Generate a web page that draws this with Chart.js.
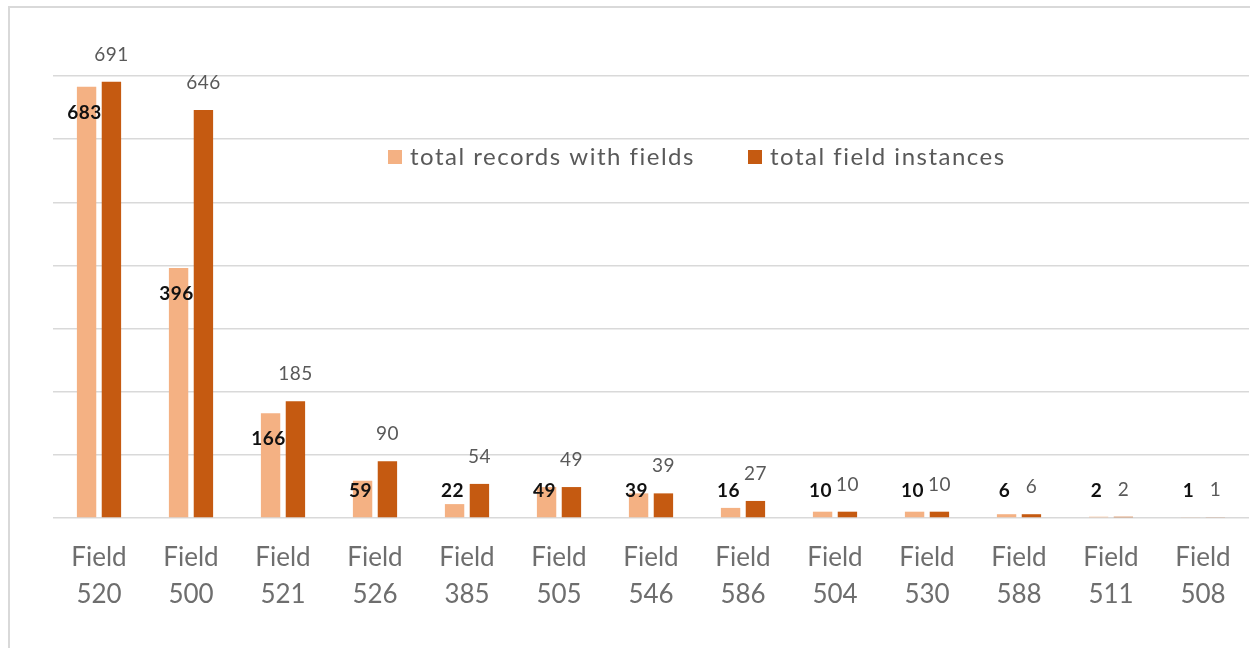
<!DOCTYPE html>
<html>
<head>
<meta charset="utf-8">
<script src="https://cdn.jsdelivr.net/npm/chart.js@4/dist/chart.umd.min.js"></script>
<style>
  html, body { margin: 0; padding: 0; background: #fff; overflow: hidden; }
  #frame { position: absolute; left: 8px; top: 6px; width: 1300px; height: 700px;
           border-left: 2px solid #d9d9d9; border-top: 2px solid #d9d9d9; }
  #wrap { position: absolute; left: 0; top: 0; width: 1250px; height: 648px; }
</style>
</head>
<body>
<div id="frame"></div>
<div id="wrap"><canvas id="chart"></canvas></div>
<script>
var fields = ["520", "500", "521", "526", "385", "505", "546", "586", "504", "530", "588", "511", "508"];
var recordsWithFields = [683, 396, 166, 59, 22, 49, 39, 16, 10, 10, 6, 2, 1];
var fieldInstances = [691, 646, 185, 90, 54, 49, 39, 27, 10, 10, 6, 2, 1];
var seriesNames = ["total records with fields", "total field instances"];
var yTicks = [0, 100, 200, 300, 400, 500, 600, 700];

var FONT = "Lato, 'Open Sans', sans-serif";

// value labels drawn on top of the bars
var valueLabels = {
  id: "valueLabels",
  afterDatasetsDraw: function(chart) {
    var ctx = chart.ctx;
    ctx.save();
    ctx.textAlign = "center";
    ctx.textBaseline = "middle";
    ctx.letterSpacing = "0.5px";
    chart.data.datasets.forEach(function(ds, i) {
      var meta = chart.getDatasetMeta(i);
      meta.data.forEach(function(bar, j) {
        var v = ds.data[j];
        if (i === 0) {
          ctx.font = "bold 19px " + FONT;
          ctx.fillStyle = "#111";
          var y = Math.min(bar.y + 26, bar.base - 26);
          ctx.fillText(String(v), bar.x - 2, y);
        } else {
          ctx.font = "19px " + FONT;
          ctx.fillStyle = "#595959";
          ctx.fillText(String(v), bar.x, bar.y - 27);
        }
      });
    });
    ctx.restore();
  }
};

// legend placed inside the plot area
var innerLegend = {
  id: "innerLegend",
  afterDraw: function(chart) {
    var ctx = chart.ctx;
    var colors = [chart.data.datasets[0].backgroundColor, chart.data.datasets[1].backgroundColor];
    var xs = [388, 748];
    var y = 157;
    ctx.save();
    ctx.font = "24px " + FONT;
    ctx.letterSpacing = "1.5px";
    ctx.textBaseline = "middle";
    ctx.textAlign = "left";
    seriesNames.forEach(function(name, i) {
      ctx.fillStyle = colors[i];
      ctx.fillRect(xs[i], y - 7, 14, 14);
      ctx.fillStyle = "#595959";
      ctx.fillText(name, xs[i] + 22, y);
    });
    ctx.restore();
  }
};

new Chart(document.getElementById("chart"), {
  type: "bar",
  data: {
    labels: fields.map(function(f) { return ["Field", f]; }),
    datasets: [
      { label: seriesNames[0], data: recordsWithFields, backgroundColor: "#F4B183",
        categoryPercentage: 0.54, barPercentage: 0.78 },
      { label: seriesNames[1], data: fieldInstances, backgroundColor: "#C55A11",
        categoryPercentage: 0.54, barPercentage: 0.78 }
    ]
  },
  options: {
    responsive: true,
    maintainAspectRatio: false,
    animation: false,
    layout: { padding: { left: 53, right: 1, top: 76, bottom: 0 } },
    plugins: {
      legend: { display: false },
      tooltip: { enabled: false }
    },
    scales: {
      x: {
        grid: { display: false },
        border: { display: false },
        ticks: {
          color: "#6e6e6e",
          font: { family: FONT, size: 26, lineHeight: 1.42 },
          padding: 13,
          maxRotation: 0,
          autoSkip: false
        },
        afterFit: function(scale) { scale.height = 130; }
      },
      y: {
        min: 0,
        max: yTicks[yTicks.length - 1],
        afterBuildTicks: function(scale) {
          scale.ticks = yTicks.map(function(v) { return { value: v }; });
        },
        border: { display: false },
        grid: { color: "#d9d9d9", lineWidth: 1.5, drawTicks: false },
        ticks: { display: false },
        afterFit: function(scale) { scale.width = 0; }
      }
    }
  },
  plugins: [valueLabels, innerLegend]
});
</script>
</body>
</html>
